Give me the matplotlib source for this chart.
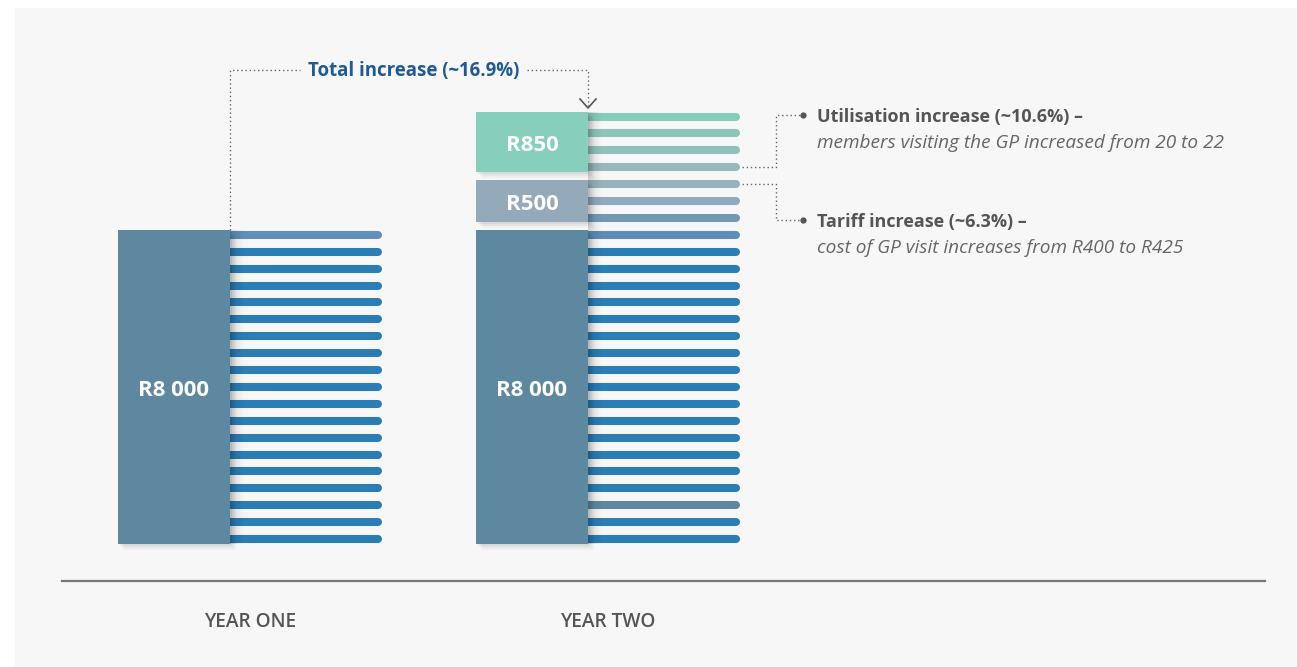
import numpy as np
import matplotlib
matplotlib.use("Agg")
import matplotlib.pyplot as plt
from matplotlib.patches import Rectangle

# ---------- DATA ----------
years = ["YEAR ONE", "YEAR TWO"]
# blocks per year: (label, number of stripes covered)
block_labels = [["R8 000"], ["R8 000", "R500", "R850"]]
block_stripes = [[19], [19, 3, 4]]
block_colors = ["#5e87a0", "#94a9ba", "#87cfba"]

# stripe colours, bottom to top
stripes_one = ["#2a7db5"] * 18 + ["#5f8fba"]
stripes_two = (["#2a7db5"] * 2 + ["#5f88a0"] + ["#2a7db5"] * 15 + ["#5d8db8"]
               + ["#7399b5", "#8fa9bd", "#98b2bc", "#97b8b9", "#92c1bb", "#8dc5bb", "#87ceba"])
stripe_colors = [stripes_one, stripes_two]

total_text = "Total increase (~16.9%)"
notes = [
    ("Utilisation increase (~10.6%) –", "members visiting the GP increased from 20 to 22"),
    ("Tariff increase (~6.3%) –", "cost of GP visit increases from R400 to R425"),
]
# --------------------------

W, H = 1297, 667
PITCH = 16.9          # pixels between stripes
Y0 = 539              # pixel row of the bottom stripe


def py(pix):
    # pixel row -> stripe units
    return (Y0 - pix) / PITCH


plt.rcParams['font.family'] = ['Open Sans', 'DejaVu Sans']

fig = plt.figure(figsize=(W / 100, H / 100), dpi=100)
fig.patch.set_facecolor("white")
ax = fig.add_axes([0, 0, 1, 1])
ax.set_xlim(0, W)
ax.set_ylim(py(H), py(0))
ax.axis("off")

# background panel
ax.add_patch(Rectangle((15, py(H)), W - 15, py(8) - py(H), color="#f7f7f7", zorder=0))

block_x = [118, 476]
block_w = 112
stripe_len = 152
pad = 0.27

for k in range(2):
    x0 = block_x[k]
    xr = x0 + block_w
    cols = stripe_colors[k]
    # stripes
    for i, c in enumerate(cols):
        ax.plot([x0 + 20, xr + stripe_len - 4], [i, i], color=c, lw=5.8,
                solid_capstyle="round", zorder=2)
    # soft shadow on stripes next to the block
    total = sum(block_stripes[k])
    grad = np.zeros((1, 40, 4))
    grad[..., 3] = np.linspace(0.16, 0, 40) ** 1.5 / 0.16 ** 0.5
    ax.imshow(grad, extent=[xr, xr + 16, -pad, total - 1 + pad], aspect="auto",
              zorder=3, interpolation="bilinear")
    # blocks
    start = 0
    for j, (lab, n) in enumerate(zip(block_labels[k], block_stripes[k])):
        b0 = start - pad
        b1 = start + n - 1 + pad
        for s, a in [(6, 0.03), (4, 0.04), (2, 0.05)]:
            ax.add_patch(Rectangle((x0 + s, b0 - s / PITCH), block_w, b1 - b0,
                                   color="black", alpha=a, lw=0, zorder=3))
        ax.add_patch(Rectangle((x0, b0), block_w, b1 - b0, color=block_colors[j],
                               lw=0, zorder=4))
        ax.text(x0 + block_w / 2, (b0 + b1) / 2 - 0.22, lab, color="white", fontsize=16,
                fontweight="bold", ha="center", va="center", zorder=5)
        start += n
    ax.text(x0 + (block_w + stripe_len) / 2, py(622), years[k], color="#555555",
            fontsize=13.8, fontweight="semibold", ha="center", va="center")

# baseline
ax.plot([62, 1265], [py(581), py(581)], color="#777777", lw=1.6, zorder=2)

# total increase bracket
dot = dict(color="#666666", lw=1, ls=(0, (1, 2)), zorder=1)
top = py(70)
xa, xb = block_x[0] + block_w, block_x[1] + block_w
ax.plot([xa, xa, 300], [sum(block_stripes[0]) - 1 + pad, top, top], **dot)
ax.plot([527, xb, xb], [top, top, py(106)], **dot)
ax.plot([xb - 8, xb, xb + 8], [py(99), py(108), py(99)], color="#555555", lw=1.2, zorder=5)
ax.text((300 + 527) / 2 + 0.5, top - 0.05, total_text, color="#1f5a96", fontsize=13.4,
        fontweight="bold", ha="center", va="center")

# right-hand notes
x_end = block_x[1] + block_w + stripe_len
x_mid, x_dot, x_txt = 776, 803, 817
src = [22, 21]
tgt = [py(115), py(220)]
for (head, sub), s, t in zip(notes, src, tgt):
    ax.plot([x_end + 2, x_mid, x_mid, x_dot], [s, s, t, t], **dot)
    ax.plot([x_dot], [t], "o", color="#555555", ms=3.5, zorder=5)
    ax.text(x_txt, t - 0.1, head, color="#555555", fontsize=13, fontweight="bold",
            ha="left", va="center")
    ax.text(x_txt, t - 27 / PITCH - 0.05, sub, color="#666666", fontsize=13.7,
            style="italic", ha="left", va="center")

fig.savefig("out.png", dpi=100, facecolor=fig.get_facecolor())
